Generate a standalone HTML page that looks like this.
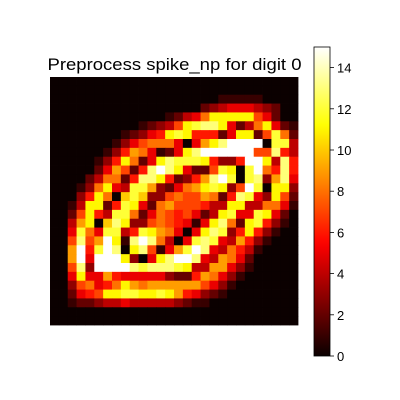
<!DOCTYPE html>
<html><head><meta charset="utf-8"><style>
html,body{margin:0;padding:0;background:#fff;width:400px;height:400px;overflow:hidden}
svg text{font-family:"Liberation Sans","DejaVu Sans",sans-serif}
</style></head><body>
<svg id="chart" width="400" height="400" viewBox="0 0 400 400">
<text x="174.5" y="70" font-size="17" text-anchor="middle" textLength="254" lengthAdjust="spacingAndGlyphs">Preprocess spike_np for digit 0</text>
<g id="cells"></g>
<defs><linearGradient id="hotgrad" x1="0" y1="1" x2="0" y2="0"></linearGradient></defs>
<rect x="314" y="47" width="16" height="309" fill="url(#hotgrad)" stroke="#000" stroke-width="0.8"/>
<g id="cbticks"></g>
</svg>
<script>
const vmin = 0;
const vmax = 15;
const cbTicks = [0, 2, 4, 6, 8, 10, 12, 14];
const gridValues = [
[0,0,0,0,0,0,0,0,0,0,0,0,0,0,0,0,0,0,0,0,0,0,0,0,0,0,0,0],
[0,0,0,0,0,0,0,0,0,0,0,0,0,0,0,0,0,0,0,0,0,0,0,0,0,0,0,0],
[0,0,0,0,0,0,0,0,0,0,0,0,0,0,0,0,0,0,0,1,1,1,1,1,0,0,0,0],
[0,0,0,0,0,0,0,0,0,0,0,0,0,0,0,0,0,2,3,4,5,5,5,4,3,2,0,0],
[0,0,0,0,0,0,0,0,0,0,0,0,0,1,2,4,5,8,11,11,11,11,11,7,5,2,0,0],
[0,0,0,0,0,0,0,0,0,0,1,2,3,4,7,11,12,13,13,11,5,2,4,8,11,5,2,1],
[0,0,0,0,0,0,0,0,1,2,3,5,6,11,12,11,6,6,6,2,5,11,11,2,7,12,8,2],
[0,0,0,0,0,0,0,1,3,5,7,8,8,8,5,0,5,9,11,13,15,15,15,15,0,12,12,4],
[0,0,0,0,0,0,1,3,6,9,8,5,1,2,5,11,13,15,15,15,15,15,15,7,7,13,6,4],
[0,0,0,0,0,1,3,6,11,8,2,5,11,13,12,12,12,11,6,3,3,6,15,15,11,4,13,6],
[0,0,0,0,0,2,5,9,7,2,6,13,15,13,11,5,2,2,7,12,11,0,12,15,8,6,13,6],
[0,0,0,0,2,4,8,8,2,6,13,13,11,6,2,3,6,9,13,15,12,0,12,13,3,9,13,5],
[0,0,0,1,3,8,11,5,4,12,12,9,3,2,5,8,9,11,12,11,3,7,15,12,0,11,11,3],
[0,0,0,3,6,11,8,0,10,12,10,3,3,7,8,7,7,9,8,2,6,13,12,5,3,11,7,2],
[0,0,1,4,11,11,2,6,12,11,5,2,8,9,7,7,7,6,4,4,11,11,4,4,8,8,5,1],
[0,0,2,7,11,6,4,12,12,8,2,5,8,7,6,7,5,2,4,11,12,5,5,12,11,5,2,0],
[0,0,4,9,11,0,10,13,11,3,3,7,8,7,6,5,1,5,11,13,8,2,11,12,6,3,1,0],
[0,0,5,12,8,5,12,12,4,6,12,11,9,8,5,0,5,11,13,12,3,6,11,6,3,1,0,0],
[0,0,7,13,7,9,15,11,1,13,15,13,8,4,0,5,12,13,12,5,4,9,6,3,1,0,0,0],
[0,0,9,15,6,12,15,13,0,11,13,7,1,5,9,12,15,13,5,4,8,6,4,1,0,0,0,0],
[0,0,9,15,5,15,15,15,11,3,0,5,11,13,15,15,13,5,4,9,8,5,2,0,0,0,0,0],
[0,0,7,13,3,15,15,15,15,13,12,13,13,13,12,11,4,4,9,9,5,3,1,0,0,0,0,0],
[0,0,5,11,5,5,9,6,5,5,5,5,5,3,2,2,6,9,8,5,3,1,0,0,0,0,0,0],
[0,0,3,7,8,5,6,8,11,9,8,9,9,9,9,9,9,7,5,3,1,0,0,0,0,0,0,0],
[0,0,2,5,6,7,11,11,12,12,11,11,12,11,9,6,5,3,2,1,0,0,0,0,0,0,0,0],
[0,0,1,2,2,3,4,4,5,4,4,4,4,4,3,2,1,1,0,0,0,0,0,0,0,0,0,0],
[0,0,0,0,0,0,0,0,0,0,0,0,0,0,0,0,0,0,0,0,0,0,0,0,0,0,0,0],
[0,0,0,0,0,0,0,0,0,0,0,0,0,0,0,0,0,0,0,0,0,0,0,0,0,0,0,0]
];
const NS = "http://www.w3.org/2000/svg";
const plotX = 50, plotY = 77, plotW = 248, plotH = 248;
const nRows = gridValues.length, nCols = gridValues[0].length;
function xScale(c){ return plotX + c * plotW / nCols; }
function yScale(r){ return plotY + r * plotH / nRows; }
function cbY(v){ return 356 - (v - vmin) / (vmax - vmin) * 309; }
function hot(t){
  t = Math.max(0, Math.min(1, t));
  const r = Math.min(1, 0.0416 + t / 0.365 * (1 - 0.0416));
  const g = Math.max(0, Math.min(1, (t - 0.365) / 0.381));
  const b = Math.max(0, Math.min(1, (t - 0.746) / 0.254));
  return "rgb(" + Math.round(r*255) + "," + Math.round(g*255) + "," + Math.round(b*255) + ")";
}
const cells = document.getElementById("cells");
for (let r = 0; r < nRows; r++) {
  for (let c = 0; c < nCols; c++) {
    const rect = document.createElementNS(NS, "rect");
    rect.setAttribute("x", xScale(c));
    rect.setAttribute("y", yScale(r));
    rect.setAttribute("width", plotW / nCols + 0.4);
    rect.setAttribute("height", plotH / nRows + 0.4);
    rect.setAttribute("fill", hot((gridValues[r][c] - vmin) / (vmax - vmin)));
    
    
    cells.appendChild(rect);
  }
}
const grad = document.getElementById("hotgrad");
for (let i = 0; i <= 40; i++) {
  const s = document.createElementNS(NS, "stop");
  s.setAttribute("offset", (i / 40));
  s.setAttribute("stop-color", hot(i / 40));
  grad.appendChild(s);
}
const tg = document.getElementById("cbticks");
cbTicks.forEach(v => {
  const y = cbY(v);
  const ln = document.createElementNS(NS, "line");
  ln.setAttribute("x1", 330); ln.setAttribute("x2", 334);
  ln.setAttribute("y1", y); ln.setAttribute("y2", y);
  ln.setAttribute("stroke", "#000"); ln.setAttribute("stroke-width", "0.8");
  
  
  tg.appendChild(ln);
  const t = document.createElementNS(NS, "text");
  t.setAttribute("x", 337); t.setAttribute("y", y + 5);
  t.setAttribute("font-size", "13");
  t.textContent = v;
  
  
  tg.appendChild(t);
});
</script>
</body></html>
